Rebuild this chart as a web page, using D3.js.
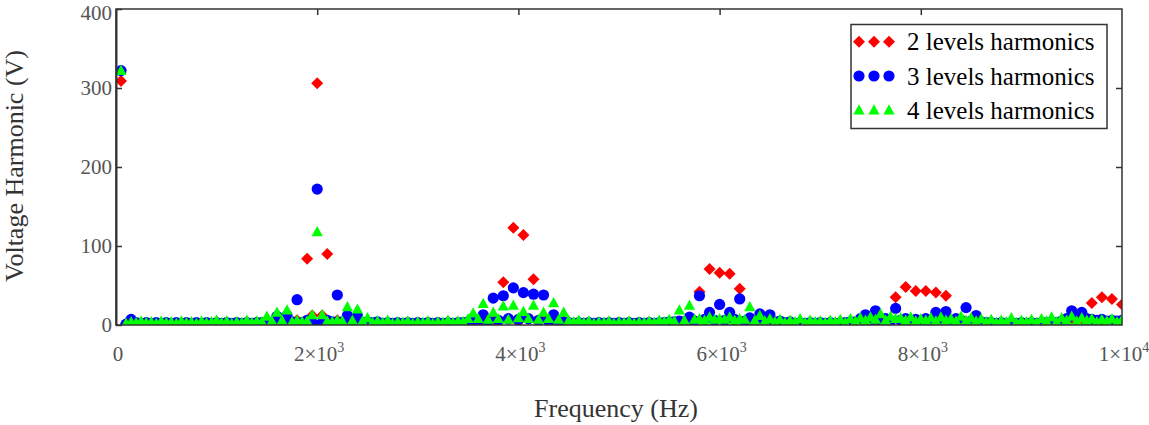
<!DOCTYPE html>
<html>
<head>
<meta charset="utf-8">
<script src="https://cdn.jsdelivr.net/npm/d3@7"></script>
<style>
  body { margin: 0; background: #fff; }
  svg { display: block; font-family: "Liberation Serif", "Times New Roman", serif; }
</style>
</head>
<body>
<svg id="chart" width="1149" height="425"></svg>
<script>
// harmonic orders of a 50 Hz fundamental, 1..200 -> 50 Hz .. 10 kHz
var fundamental = 50;
var orders = d3.range(1, 201);

// voltage of each harmonic (V), one row = 1 kHz
var levels2 = [
  309, 2, 3, 1, 2, 1, 2, 1, 2, 1, 2, 1, 2, 1, 2, 1, 2, 1, 2, 1,
  1, 2, 1, 2, 1, 2, 1, 2, 2, 3, 2, 4, 2, 5, 3, 6, 3, 84, 12, 306,
  12, 90, 3, 6, 3, 5, 2, 4, 2, 3, 1, 2, 1, 2, 1, 2, 1, 2, 1, 2,
  1, 2, 1, 2, 1, 2, 1, 2, 2, 3, 2, 4, 3, 6, 5, 6, 54, 8, 123, 4,
  114, 8, 58, 4, 10, 5, 6, 3, 4, 2, 2, 1, 2, 1, 2, 1, 2, 1, 2, 1,
  1, 2, 1, 2, 1, 2, 1, 2, 1, 2, 2, 3, 3, 5, 6, 42, 6, 71, 5, 66,
  5, 65, 5, 46, 4, 5, 3, 3, 2, 2, 1, 2, 1, 2, 1, 2, 1, 2, 1, 2,
  1, 2, 1, 2, 1, 2, 1, 2, 2, 3, 3, 4, 4, 5, 35, 5, 48, 4, 43, 4,
  43, 4, 41, 4, 37, 3, 5, 3, 3, 2, 1, 2, 1, 2, 1, 2, 1, 2, 1, 2,
  1, 2, 1, 2, 1, 2, 1, 2, 2, 3, 3, 4, 4, 28, 4, 35, 4, 33, 4, 26
];
var levels3 = [
  322, 1, 7, 3, 2, 3, 2, 3, 2, 3, 2, 3, 2, 3, 2, 3, 2, 3, 2, 3,
  2, 3, 2, 3, 2, 3, 2, 3, 3, 4, 3, 11, 4, 12, 4, 32, 3, 6, 3, 172,
  3, 6, 4, 38, 4, 12, 4, 11, 3, 4, 3, 4, 2, 3, 2, 3, 2, 3, 2, 3,
  2, 3, 2, 3, 2, 3, 2, 3, 3, 4, 4, 5, 13, 5, 34, 6, 37, 8, 47, 7,
  41, 8, 39, 6, 38, 5, 13, 4, 4, 3, 2, 3, 2, 3, 2, 3, 2, 3, 2, 3,
  2, 3, 2, 3, 2, 3, 2, 3, 3, 4, 4, 5, 4, 10, 5, 37, 7, 16, 6, 26,
  6, 16, 7, 33, 5, 9, 5, 14, 5, 13, 4, 5, 3, 4, 2, 3, 2, 3, 2, 3,
  2, 3, 2, 3, 3, 4, 4, 8, 13, 6, 18, 6, 8, 5, 21, 6, 8, 6, 7, 5,
  8, 6, 16, 6, 17, 5, 8, 6, 22, 5, 12, 4, 3, 3, 2, 3, 2, 3, 2, 3,
  2, 3, 2, 3, 3, 4, 3, 5, 8, 18, 10, 16, 8, 7, 6, 7, 5, 6, 5, 6
];
var levels4 = [
  322, 2, 4, 3, 5, 3, 4, 2, 5, 3, 4, 2, 5, 3, 4, 2, 5, 3, 4, 6,
  3, 5, 2, 4, 3, 6, 3, 5, 4, 11, 5, 16, 6, 19, 4, 6, 4, 5, 13, 118,
  13, 5, 4, 6, 5, 23, 6, 20, 5, 9, 3, 5, 3, 6, 2, 4, 3, 5, 2, 4,
  3, 5, 2, 4, 3, 6, 3, 5, 4, 8, 15, 8, 27, 7, 16, 8, 24, 7, 25, 9,
  17, 8, 25, 7, 16, 8, 28, 7, 16, 6, 4, 6, 3, 5, 2, 4, 3, 5, 2, 4,
  3, 5, 2, 4, 3, 5, 3, 6, 4, 7, 5, 19, 6, 25, 7, 8, 6, 10, 7, 8,
  7, 10, 6, 8, 7, 23, 6, 12, 5, 8, 4, 7, 3, 6, 4, 8, 3, 6, 4, 5,
  3, 6, 4, 7, 3, 8, 5, 9, 6, 10, 7, 14, 6, 11, 8, 9, 6, 10, 5, 8,
  6, 9, 5, 10, 6, 8, 5, 11, 6, 9, 5, 8, 4, 7, 3, 6, 4, 9, 3, 6,
  4, 7, 3, 8, 5, 10, 4, 9, 6, 11, 5, 9, 6, 8, 4, 7, 5, 8, 4, 7
];

var seriesNames = ["2 levels harmonics", "3 levels harmonics", "4 levels harmonics"];
var seriesColors = ["#ff0000", "#0000ff", "#00ff00"];
var xTicks = [0, 2000, 4000, 6000, 8000, 10000];
var xTickBase = ["0", "2\u00d710", "4\u00d710", "6\u00d710", "8\u00d710", "1\u00d710"];
var xTickExp = ["", "3", "3", "3", "3", "4"];
var yTicks = [0, 100, 200, 300, 400];

var svg = d3.select("#chart");
var plotL = 116, plotR = 1122, plotT = 9, plotB = 325;

var x = d3.scaleLinear().domain([0, 10000]).range([plotL, plotR]);
var y = d3.scaleLinear().domain([0, 400]).range([plotB, plotT]);

var diamond = "M0,-6L6,0L0,6L-6,0Z";
var triangle = "M0,-5.8L5.6,4.4L-5.6,4.4Z";

svg.append("clipPath").attr("id", "plotclip")
  .append("rect").attr("x", plotL).attr("y", plotT)
  .attr("width", plotR - plotL).attr("height", plotB - plotT);

var plot = svg.append("g").attr("clip-path", "url(#plotclip)");
var allSeries = [levels2, levels3, levels4];

allSeries.forEach(function (vals, s) {
  var pts = orders.map(function (n, i) { return { f: n * fundamental, v: vals[i] }; });
  var g = plot.append("g");
  if (s === 1) {
    g.selectAll("circle").data(pts).enter().append("circle")
      .attr("cx", function (d) { return x(d.f); })
      .attr("cy", function (d) { return y(d.v); })
      .attr("r", 5.6)
      .attr("fill", seriesColors[s]);
  } else {
    g.selectAll("path").data(pts).enter().append("path")
      .attr("d", s === 0 ? diamond : triangle)
      .attr("transform", function (d) { return "translate(" + x(d.f) + "," + y(d.v) + ")"; })
      .attr("fill", seriesColors[s]);
  }
});

// frame and ticks
var axisColor = "#333";
svg.append("rect").attr("x", plotL).attr("y", plotT)
  .attr("width", plotR - plotL).attr("height", plotB - plotT)
  .attr("fill", "none").attr("stroke", axisColor).attr("stroke-width", 1.5);

var yAxis = svg.append("g").attr("transform", "translate(" + plotL + ",0)")
  .call(d3.axisLeft(y).tickValues(yTicks).tickSizeInner(-6).tickSizeOuter(0).tickPadding(4));
yAxis.select(".domain").attr("stroke", axisColor).attr("stroke-width", 2);
yAxis.selectAll(".tick line").attr("stroke", axisColor).attr("stroke-width", 1.5);
yAxis.selectAll(".tick text")
  .attr("font-size", 21).attr("fill", "#555").attr("font-family", "Liberation Serif")
  .attr("y", function (d) { return d === 400 ? 4 : 0; });

var yRight = svg.append("g").attr("transform", "translate(" + plotR + ",0)")
  .call(d3.axisRight(y).tickValues([100, 200, 300]).tickSizeInner(-6).tickSizeOuter(0).tickFormat(""));
yRight.select(".domain").remove();
yRight.selectAll(".tick line").attr("stroke", axisColor).attr("stroke-width", 1.5);

var xTop = svg.append("g").attr("transform", "translate(0," + plotT + ")")
  .call(d3.axisTop(x).tickValues([2000, 4000, 6000, 8000]).tickSizeInner(-6).tickSizeOuter(0).tickFormat(""));
xTop.select(".domain").remove();
xTop.selectAll(".tick line").attr("stroke", axisColor).attr("stroke-width", 1.5);

// x tick labels with superscript exponents
var xl = svg.append("g").attr("font-size", 21).attr("fill", "#555");
xTicks.forEach(function (t, i) {
  var txt = xl.append("text")
    .attr("x", x(t) + 2).attr("y", 361)
    .attr("text-anchor", "middle");
  txt.append("tspan").text(xTickBase[i]);
  if (xTickExp[i]) {
    txt.append("tspan").attr("font-size", 14).attr("dy", -9).text(xTickExp[i]);
  }
});

// axis titles
svg.append("text")
  .attr("transform", "translate(23,166) rotate(-90)")
  .attr("text-anchor", "middle").attr("font-size", 26).attr("fill", "#333")
  .text("Voltage Harmonic (V)");
svg.append("text")
  .attr("x", 616).attr("y", 417)
  .attr("text-anchor", "middle").attr("font-size", 26).attr("fill", "#333")
  .text("Frequency (Hz)");

// legend
var legend = svg.append("g");
legend.append("rect").attr("x", 851).attr("y", 24.5).attr("width", 256).attr("height", 104)
  .attr("fill", "#fff").attr("stroke", axisColor).attr("stroke-width", 1.5);
var rowY = [41.7, 76, 110];
seriesNames.forEach(function (name, s) {
  var row = legend.append("g");
  [859, 874, 889].forEach(function (mx) {
    if (s === 1) {
      row.append("circle").attr("cx", mx).attr("cy", rowY[s]).attr("r", 5.6).attr("fill", seriesColors[s]);
    } else {
      row.append("path").attr("d", s === 0 ? diamond : triangle)
        .attr("transform", "translate(" + mx + "," + rowY[s] + ")")
        .attr("fill", seriesColors[s]);
    }
  });
  row.append("text").attr("x", 907).attr("y", rowY[s] + 8.5)
    .attr("font-size", 25).attr("fill", "#000").text(name);
});
</script>
</body>
</html>
